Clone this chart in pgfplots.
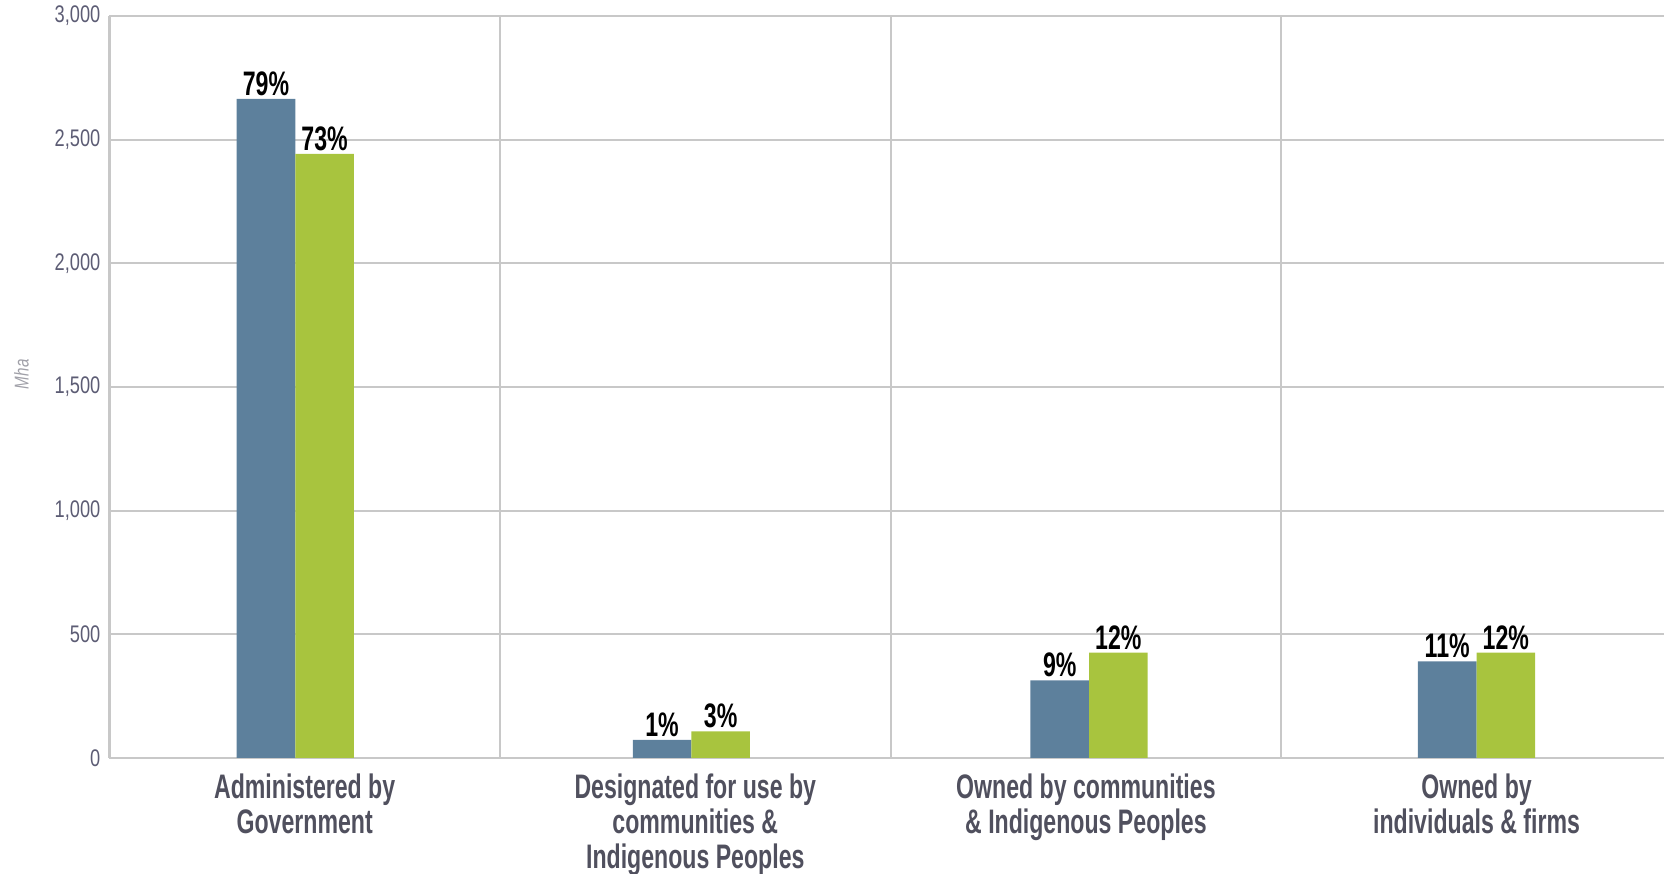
\documentclass[border=0pt]{standalone}
\usepackage{fontspec}
\setmainfont[FakeStretch=0.76]{Liberation Sans}
\newfontfamily\catfont[FakeStretch=0.68, UprightFont={* Bold}]{Liberation Sans}
\usepackage{pgfplots}
\pgfplotsset{compat=1.18}
\definecolor{barblue}{HTML}{5D809C}
\definecolor{bargreen}{HTML}{A8C43E}
\definecolor{gridgray}{HTML}{C8C8C8}
\definecolor{ticktext}{HTML}{5C5C74}
\definecolor{cattext}{HTML}{50505E}
\definecolor{labgray}{HTML}{A0A0A8}
\begin{document}
\begin{tikzpicture}
\useasboundingbox (-54.7pt,-58pt) rectangle (777.5pt,379pt);
\begin{axis}[
  at={(0pt,0pt)}, anchor=south west,
  scale only axis, width=777.5pt, height=371pt,
  xmin=-0.5, xmax=3.48, ymin=0, ymax=3000,
  ytick={0,500,1000,1500,2000,2500,3000},
  xtick={0,1,2,3},
  xticklabels={{Administered by\\Government},{Designated for use by\\communities \&\\Indigenous Peoples},{Owned by communities\\\& Indigenous Peoples},{Owned by\\individuals \& firms}},
  xticklabel style={align=center, font=\catfont\fontsize{17}{17.5}\selectfont, text=cattext, yshift=-4.5pt},
  yticklabel style={font=\fontsize{12}{14}\selectfont, text=ticktext, /pgf/number format/1000 sep={,}, /pgf/number format/assume math mode=true, xshift=-1pt},
  major tick length=0pt,
  ymajorgrids,
  grid style={gridgray, line width=1pt},
  extra x ticks={-0.5,0.5,1.5,2.5},
  extra x tick labels={},
  extra x tick style={grid=major, major grid style={gridgray, line width=1pt}},
  axis x line*=bottom, axis y line*=left,
  axis line style={gridgray, line width=1.2pt, -},
  ylabel={\itshape Mha},
  ylabel style={at={(axis description cs:-0.0566,0.517)}, anchor=center, font=\fontsize{10}{12}\selectfont, text=labgray},
  ybar, bar width=0.15,
  nodes near coords={\pgfplotspointmeta\%},
  point meta=explicit symbolic,
  nodes near coords style={font=\catfont\fontsize{17}{17}\selectfont, text=black, anchor=south, inner sep=1.5pt},
  clip=false,
]
\addplot[draw=none, fill=barblue, bar shift=-0.075] coordinates {(-0.024,2665) [79] (0.99,73) [1] (2.008,313) [9] (3.0,390) [11]};
\addplot[draw=none, fill=bargreen, bar shift=0.075] coordinates {(-0.024,2442) [73] (0.99,107) [3] (2.008,425) [12] (3.0,425) [12]};
\end{axis}
\end{tikzpicture}
\end{document}
